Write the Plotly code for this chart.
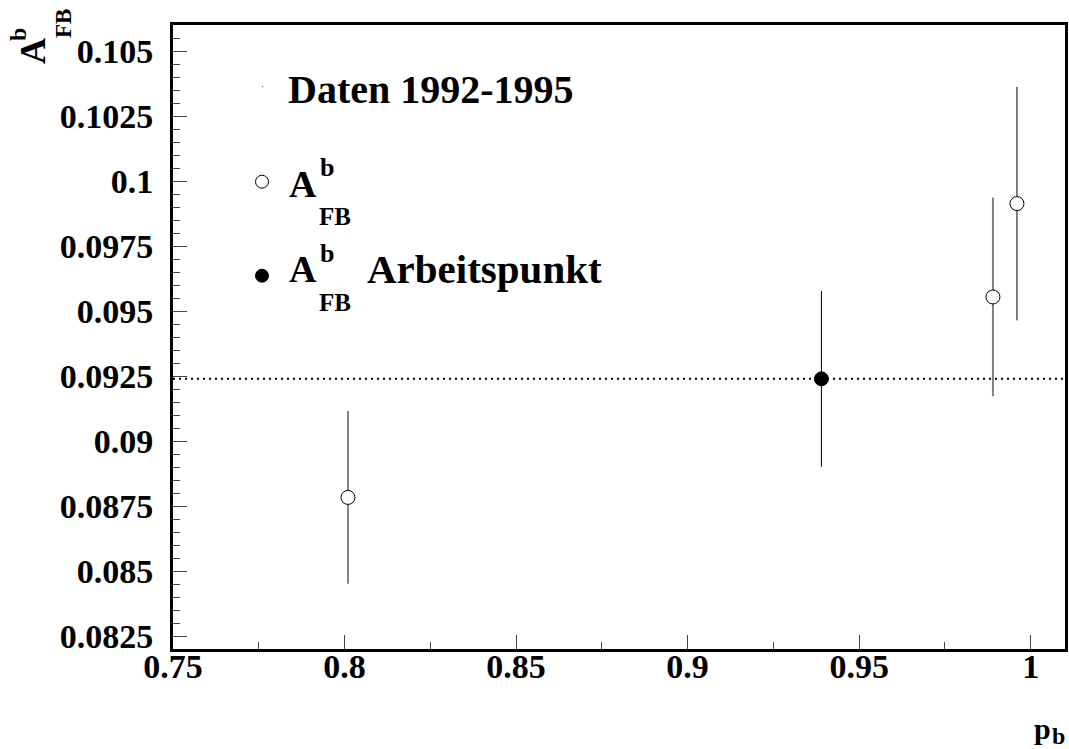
import plotly.graph_objects as go

# ---- data ----
open_pb = [0.801, 0.989, 0.996]
open_afb = [0.08783, 0.09554, 0.09913]
open_err = [0.00332, 0.00382, 0.00449]
open_err_color = ["grey", "grey", "black"]

work_pb = [0.939]
work_afb = [0.09239]
work_err = [0.00338]

x_ticks = [0.75, 0.80, 0.85, 0.90, 0.95, 1.00]
x_ticklabels = ["0.75", "0.8", "0.85", "0.9", "0.95", "1"]
y_ticks = [0.0825, 0.085, 0.0875, 0.09, 0.0925, 0.095, 0.0975, 0.1, 0.1025, 0.105]
y_ticklabels = ["0.0825", "0.085", "0.0875", "0.09", "0.0925", "0.095",
                "0.0975", "0.1", "0.1025", "0.105"]

X_RANGE = [0.75, 1.01]
Y_RANGE = [0.082, 0.106]

FONT = "Liberation Serif"
SW, SH = 1069, 749           # figure size
# plot area in screenshot pixels
PX0, PX1, PY0, PY1 = 173, 1065, 25, 649
L, R, T, B = PX0, SW - PX1, PY0, SH - PY1
PW, PH = PX1 - PX0, PY1 - PY0


def paper(px, py):
    return (px - PX0) / PW, (PY1 - py) / PH


fig = go.Figure()

# open circles, split by error-bar colour
for color, width in (("grey", 2), ("black", 1)):
    idx = [i for i, c in enumerate(open_err_color) if c == color]
    fig.add_trace(go.Scatter(
        x=[open_pb[i] for i in idx],
        y=[open_afb[i] for i in idx],
        mode="markers",
        marker=dict(symbol="circle", size=14, color="white",
                    line=dict(color="black", width=1)),
        error_y=dict(type="data", array=[open_err[i] for i in idx],
                     color="rgb(128,128,128)" if color == "grey" else "black",
                     thickness=width, width=0),
        showlegend=False, hoverinfo="skip",
    ))

fig.add_trace(go.Scatter(
    x=work_pb, y=work_afb, mode="markers",
    marker=dict(symbol="circle", size=14, color="black",
                line=dict(color="black", width=1)),
    error_y=dict(type="data", array=work_err, color="black", thickness=1, width=0),
    showlegend=False, hoverinfo="skip",
))

# dotted reference line at working point
fig.add_shape(type="line", xref="paper", yref="y", x0=0, x1=1,
              y0=work_afb[0], y1=work_afb[0],
              line=dict(color="black", width=2, dash="2px,4px"), layer="below")


# ---- legend drawn manually ----
def circle(px, py, r, fill, lw=1, lc="black"):
    xp, yp = paper(px, py)
    fig.add_shape(type="circle", xref="paper", yref="paper",
                  xsizemode="pixel", ysizemode="pixel",
                  xanchor=xp, yanchor=yp, x0=-r, x1=r, y0=-r, y1=r,
                  fillcolor=fill, line=dict(color=lc, width=lw))


def text(s, px, py, size, xanchor="center", yanchor="middle", angle=0):
    xp, yp = paper(px, py)
    fig.add_annotation(text=s, xref="paper", yref="paper", x=xp, y=yp,
                       xanchor=xanchor, yanchor=yanchor, showarrow=False,
                       textangle=angle, borderpad=0,
                       font=dict(family=FONT, size=size, color="black", weight="bold"))


circle(262.5, 86.7, 0.8, "grey", lw=0, lc="grey")
text("Daten 1992-1995", 287, 90, 40, xanchor="left")

circle(262, 181.7, 6.5, "white")
text("A", 303, 184, 38)
text("b", 327, 168, 26)
text("FB", 335, 216, 25)

circle(262, 275.7, 6.5, "black")
text("A", 303, 269, 38)
text("b", 327, 253, 26)
text("FB", 335, 302, 25)
text("Arbeitspunkt", 366, 269, 41, xanchor="left")

# y-axis title (rotated)
text("A", 33, 51, 36, angle=-90)
text("b", 18, 35, 24, angle=-90)
text("FB", 63, 24, 23, angle=-90)

# x-axis title
text("p", 1042, 746, 30, yanchor="bottom")
text("b", 1058, 750, 24, yanchor="bottom")

tickfont = dict(family=FONT, size=34, color="black", weight="bold")
fig.update_xaxes(
    range=X_RANGE, tickmode="array", tickvals=x_ticks, ticktext=x_ticklabels,
    ticks="inside", ticklen=14, tickwidth=1, tickcolor="#444",
    minor=dict(ticks="inside", ticklen=7, tickwidth=1, tickcolor="#444",
               dtick=0.025, tick0=0.75),
    showline=True, linewidth=3, linecolor="black", mirror=True,
    showgrid=False, zeroline=False, tickfont=tickfont, ticklabelstandoff=-15,
)
fig.update_yaxes(
    range=Y_RANGE, tickmode="array", tickvals=y_ticks, ticktext=y_ticklabels,
    ticks="inside", ticklen=14, tickwidth=1, tickcolor="#444",
    minor=dict(ticks="inside", ticklen=7, tickwidth=1, tickcolor="#444",
               dtick=0.0005, tick0=0.0825),
    showline=True, linewidth=3, linecolor="black", mirror=True,
    showgrid=False, zeroline=False, tickfont=tickfont, ticklabelstandoff=10,
)
fig.update_layout(
    width=SW, height=SH, margin=dict(l=L, r=R, t=T, b=B, autoexpand=False),
    plot_bgcolor="white", paper_bgcolor="white", showlegend=False,
)
fig.write_html("out.html", config={"displayModeBar": False},
               post_script="document.body.style.margin='0';document.body.style.overflow='hidden';")
